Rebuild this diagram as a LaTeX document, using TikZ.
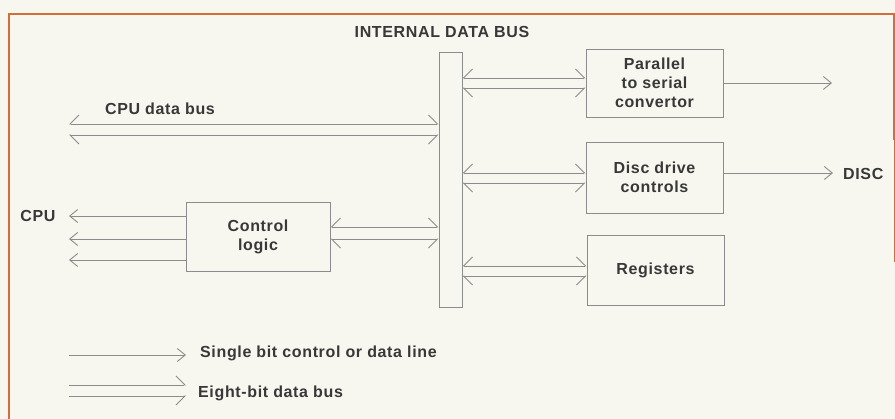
\documentclass[tikz,border=0pt]{standalone}
\usepackage{fontspec}
\setmainfont{Liberation Sans}[LetterSpace=4]
\usetikzlibrary{arrows.meta}
\definecolor{bg}{HTML}{F7F6EF}
\definecolor{frame}{HTML}{CF7036}
\definecolor{linec}{HTML}{8C8C8C}
\definecolor{txt}{HTML}{383838}
\tikzset{
  ln/.style={draw=linec, line width=0.9pt},
  box/.style={ln, rectangle, inner sep=0pt, align=center, text=txt,
    font=\fontsize{16}{19}\selectfont\bfseries},
  lbl/.style={text=txt, inner sep=0pt, font=\fontsize{16}{19}\selectfont\bfseries},
  hu/.tip={Straight Barb[harpoon, length=9pt, width=18pt, line width=0.9pt]},
  hd/.tip={Straight Barb[harpoon, swap, length=9pt, width=18pt, line width=0.9pt]},
  sb/.tip={Straight Barb[length=8pt, width=13pt, line width=0.9pt]},
  upl/.style={ln, {hd}-{hu}},
  lol/.style={ln, {hu}-{hd}},
  lftarr/.style={ln, {sb}-},
  rgtarr/.style={ln, -{sb}},
}
\begin{document}
\begin{tikzpicture}[x=1pt, y=-1pt]
\useasboundingbox (0,0) rectangle (895,419);
\fill[bg] (0,0) rectangle (895,419);
\draw[frame, line width=2.8pt] (9,419) -- (9,14) -- (894,14) -- (894,140);
\draw[frame, line width=1pt] (894,140) -- (894,262);

% title
\node[lbl] (title) at (442,32) {INTERNAL DATA BUS};

% boxes
\node[box, minimum width=23pt, minimum height=255pt] (bus) at (450.5,179.5) {};
\node[box, minimum width=137pt, minimum height=68pt] (par) at (654.5,83) {Parallel\\to serial\\convertor};
\node[box, minimum width=137pt, minimum height=71pt] (disc) at (654.5,177.5) {Disc drive\\controls};
\node[box, minimum width=137pt, minimum height=70pt] (reg) at (655.5,270) {Registers};
\node[box, minimum width=144pt, minimum height=69pt] (ctl) at (258,236.5) {Control\\logic};

% labels
\node[lbl] (cpubl) at (160,109) {CPU data bus};
\node[lbl] (cpu) at (38,216) {CPU};
\node[lbl, anchor=west] (disct) at (843,174) {DISC};

% CPU data bus
\coordinate (cb1) at (69,124);
\coordinate (cb2) at (69,135);
\draw[upl] (cb1) -- (cb1 -| bus.west);
\draw[lol] (cb2) -- (cb2 -| bus.west);

% control logic to bus
\coordinate (cl1) at ([yshift=9.5pt]ctl.east);
\coordinate (cl2) at ([yshift=-2.5pt]ctl.east);
\draw[upl] (cl1) -- (cl1 -| bus.west);
\draw[lol] (cl2) -- (cl2 -| bus.west);

% CPU control lines
\coordinate (cp1) at (69,216);
\coordinate (cp2) at (69,239);
\coordinate (cp3) at (69,260);
\draw[lftarr] (cp1) -- (cp1 -| ctl.west);
\draw[lftarr] (cp2) -- (cp2 -| ctl.west);
\draw[lftarr] (cp3) -- (cp3 -| ctl.west);

% bus to right boxes
\coordinate (p1) at ([yshift=5pt]par.west);
\coordinate (p2) at ([yshift=-5pt]par.west);
\draw[upl] (p1 -| bus.east) -- (p1);
\draw[lol] (p2 -| bus.east) -- (p2);
\coordinate (d1) at ([yshift=4.5pt]disc.west);
\coordinate (d2) at ([yshift=-5.5pt]disc.west);
\draw[upl] (d1 -| bus.east) -- (d1);
\draw[lol] (d2 -| bus.east) -- (d2);
\coordinate (r1) at ([yshift=4pt]reg.west);
\coordinate (r2) at ([yshift=-6pt]reg.west);
\draw[upl] (r1 -| bus.east) -- (r1);
\draw[lol] (r2 -| bus.east) -- (r2);

% outputs
\coordinate (po) at (832,83);
\draw[rgtarr] (po -| par.east) -- (po);
\coordinate (dout) at (833,173);
\draw[rgtarr] (dout -| disc.east) -- (dout);

% legend
\coordinate (l1a) at (69,355);
\coordinate (l1b) at (186,355);
\draw[rgtarr] (l1a) -- (l1b);
\node[lbl, anchor=west] (leg1) at (200,353) {Single bit control or data line};
\coordinate (l2a) at (69,385);
\coordinate (l2b) at (186,385);
\coordinate (l3a) at (69,396);
\coordinate (l3b) at (186,396);
\draw[ln, -{hu}] (l2a) -- (l2b);
\draw[ln, -{hd}] (l3a) -- (l3b);
\node[lbl, anchor=west] (leg2) at (198,393) {Eight-bit data bus};
\end{tikzpicture}
\end{document}
